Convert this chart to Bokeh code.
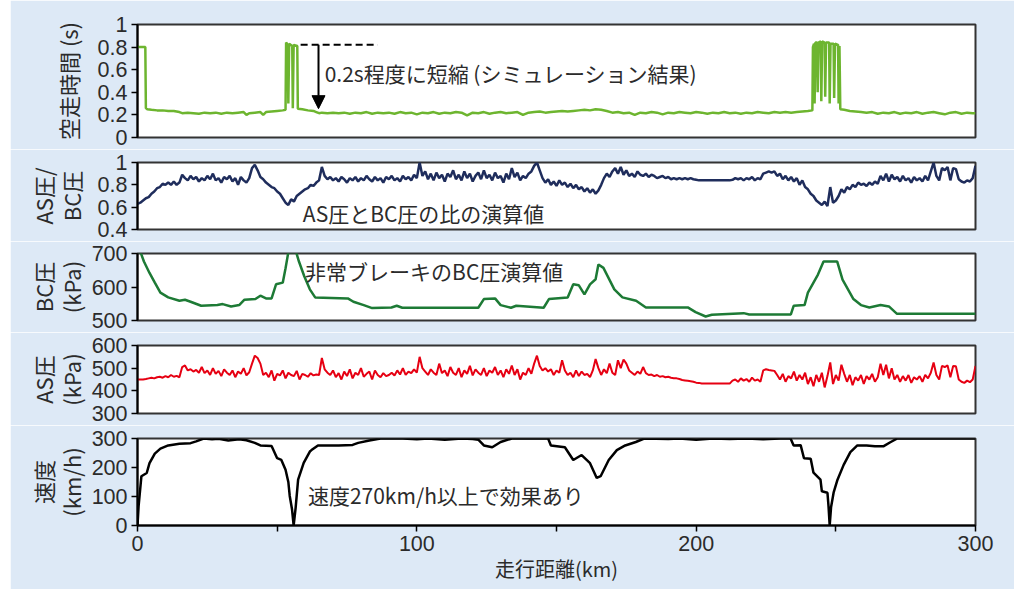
from bokeh.plotting import figure
from bokeh.layouts import column, row
from bokeh.models import (FixedTicker, CustomJSTickFormatter, Label, Arrow,
                          NormalHead, Range1d, Spacer)
from bokeh.embed import file_html
from bokeh.resources import INLINE

# ---------------- data ----------------
# Panel 1: idle running time (s)
idle_x = [0, 0.5, 2.8, 3.0, 3.5, 5, 7, 9, 11, 13, 15, 16, 18, 20, 22, 24, 26, 28, 30, 32, 34, 36, 38, 39, 40,
          42, 44, 45, 46, 48, 50, 52, 53.0, 53.2, 53.8, 54.0, 54.3, 55.4, 55.6, 55.9, 57.2, 57.4, 59, 61, 63,
          64, 65, 66, 68, 70, 72, 74, 76, 78, 80, 82, 84, 86, 88, 90, 92, 94, 96, 98, 100, 102, 104, 106,
          108, 110, 112, 114, 116, 118, 120, 122, 124, 126, 128, 130, 132, 134, 136, 138, 140, 142, 144,
          146, 148, 150, 152, 154, 156, 158, 160, 162, 164, 166, 168, 170, 172, 174, 176, 178, 180, 182,
          184, 186, 188, 190, 192, 194, 196, 198, 200, 202, 204, 206, 208, 210, 212, 214, 216, 218, 220,
          222, 224, 226, 228, 230, 232, 234, 236, 238, 240, 241.6, 241.8, 242.2, 242.4, 242.7, 243.3, 243.5,
          243.8, 244.6, 244.8, 245.1, 246.0, 246.2, 246.5, 247.6, 247.8, 248.1, 249.2, 249.4, 249.7, 250.8,
          251.0, 251.3, 251.6, 253, 255, 257, 259, 261, 263, 265, 267, 269, 271, 273, 275, 277, 279, 281,
          283, 285, 287, 289, 291, 293, 295, 297, 299, 300]
idle_t = [0.81, 0.80, 0.80, 0.26, 0.25, 0.245, 0.24, 0.24, 0.235, 0.235, 0.225, 0.215, 0.22, 0.215, 0.21,
          0.22, 0.215, 0.22, 0.21, 0.22, 0.215, 0.22, 0.225, 0.20, 0.215, 0.22, 0.225, 0.20, 0.225, 0.23,
          0.235, 0.24, 0.245, 0.84, 0.82, 0.30, 0.83, 0.81, 0.26, 0.82, 0.81, 0.255, 0.25, 0.24, 0.235,
          0.225, 0.215, 0.22, 0.215, 0.22, 0.215, 0.22, 0.21, 0.22, 0.215, 0.225, 0.21, 0.22, 0.215, 0.22,
          0.21, 0.225, 0.215, 0.22, 0.205, 0.22, 0.215, 0.225, 0.21, 0.22, 0.215, 0.225, 0.22, 0.195, 0.22,
          0.215, 0.225, 0.21, 0.22, 0.225, 0.215, 0.22, 0.225, 0.20, 0.22, 0.225, 0.23, 0.22, 0.225, 0.23,
          0.235, 0.23, 0.235, 0.24, 0.245, 0.24, 0.25, 0.245, 0.235, 0.22, 0.225, 0.215, 0.22, 0.20, 0.22,
          0.215, 0.225, 0.22, 0.205, 0.22, 0.215, 0.225, 0.22, 0.215, 0.225, 0.22, 0.21, 0.22, 0.215, 0.225,
          0.215, 0.22, 0.21, 0.22, 0.215, 0.225, 0.22, 0.215, 0.225, 0.22, 0.225, 0.22, 0.225, 0.23, 0.235,
          0.24, 0.80, 0.83, 0.30, 0.84, 0.84, 0.40, 0.84, 0.85, 0.32, 0.85, 0.84, 0.36, 0.84, 0.84, 0.30,
          0.83, 0.83, 0.35, 0.83, 0.82, 0.30, 0.81, 0.25, 0.245, 0.235, 0.23, 0.225, 0.22, 0.225, 0.21,
          0.22, 0.215, 0.225, 0.21, 0.22, 0.215, 0.225, 0.21, 0.22, 0.225, 0.215, 0.205, 0.22, 0.225, 0.21,
          0.22, 0.215, 0.215]

# Distance grid (km) for the 1-km sampled ratio / AS pressure traces
dist_km = list(range(0, 301))

# Panel 2: AS/BC pressure ratio
ratio = [0.63, 0.64, 0.66, 0.68, 0.69, 0.72, 0.74, 0.77, 0.78, 0.81, 0.80, 0.82, 0.80, 0.83, 0.80, 0.82,
         0.89, 0.86, 0.84, 0.88, 0.85, 0.87, 0.83, 0.86, 0.84, 0.88, 0.85, 0.90, 0.84, 0.86, 0.82, 0.87,
         0.85, 0.88, 0.83, 0.86, 0.80, 0.87, 0.84, 0.82, 0.86, 0.95, 0.98, 0.93, 0.87, 0.85, 0.82, 0.80,
         0.78, 0.77, 0.74, 0.72, 0.68, 0.64, 0.62, 0.67, 0.65, 0.70, 0.72, 0.74, 0.76, 0.77, 0.80, 0.79,
         0.82, 0.84, 0.96, 0.88, 0.85, 0.87, 0.84, 0.86, 0.83, 0.87, 0.85, 0.82, 0.86, 0.84, 0.87, 0.83,
         0.86, 0.84, 0.88, 0.85, 0.83, 0.87, 0.84, 0.86, 0.82, 0.87, 0.85, 0.88, 0.84, 0.86, 0.83, 0.88,
         0.85, 0.87, 0.84, 0.89, 0.86, 1.00, 0.88, 0.92, 0.85, 0.90, 0.84, 0.91, 0.86, 0.89, 0.83, 0.90,
         0.87, 0.93, 0.85, 0.89, 0.84, 0.92, 0.86, 0.90, 0.83, 0.88, 0.91, 0.85, 0.93, 0.86, 0.89, 0.84,
         0.91, 0.86, 0.88, 0.82, 0.90, 0.85, 0.95, 0.87, 0.91, 0.84, 0.88, 0.86, 0.90, 0.92, 0.97, 1.00,
         0.93, 0.86, 0.82, 0.85, 0.80, 0.83, 0.79, 0.84, 0.80, 0.82, 0.78, 0.81, 0.77, 0.80, 0.76, 0.78,
         0.74, 0.77, 0.73, 0.76, 0.72, 0.75, 0.80, 0.86, 0.90, 0.87, 0.92, 0.95, 0.90, 0.96, 0.89, 0.93,
         0.88, 0.90, 0.87, 0.92, 0.89, 0.88, 0.90, 0.87, 0.89, 0.88, 0.86, 0.87, 0.88, 0.86, 0.87, 0.85,
         0.86, 0.85, 0.86, 0.85, 0.86, 0.85, 0.86, 0.85, 0.845, 0.84, 0.84, 0.84, 0.84, 0.84, 0.84, 0.84,
         0.84, 0.84, 0.84, 0.84, 0.84, 0.845, 0.86, 0.85, 0.86, 0.84, 0.86, 0.85, 0.87, 0.84, 0.86, 0.85,
         0.90, 0.91, 0.92, 0.91, 0.92, 0.88, 0.90, 0.85, 0.88, 0.84, 0.87, 0.83, 0.86, 0.80, 0.84, 0.78,
         0.76, 0.72, 0.70, 0.66, 0.64, 0.62, 0.65, 0.61, 0.78, 0.64, 0.66, 0.70, 0.76, 0.73, 0.78, 0.76,
         0.80, 0.78, 0.82, 0.80, 0.81, 0.79, 0.82, 0.80, 0.83, 0.81, 0.88, 0.84, 0.90, 0.83, 0.89, 0.85,
         0.87, 0.83, 0.88, 0.84, 0.86, 0.82, 0.87, 0.84, 0.86, 0.83, 0.88, 0.84, 0.92, 1.00, 0.88, 0.84,
         0.95, 0.93, 0.96, 0.84, 0.95, 0.94, 0.85, 0.83, 0.82, 0.84, 0.83, 0.86, 0.97]

# Panel 3: calculated emergency-brake BC pressure (kPa)
bc_x = [0, 1, 2.3, 4.3, 6.2, 8.2, 11, 15, 17, 19, 22.8, 28.6, 30.5, 33.5, 36.4, 38.3, 42.2, 44, 46, 48,
        49.6, 52, 53, 54, 56.8, 57.8, 59.7, 61.7, 63.6, 75.3, 77.3, 81, 84, 90.9, 92.8, 94.8, 122, 124,
        128, 130, 133.7, 135.6, 145.4, 147.3, 154, 156, 158, 160, 162, 164, 165, 166.8, 170.7, 173.6,
        178.5, 182, 197, 199.8, 203.4, 205.6, 217, 219, 233.9, 234.9, 238.8, 240, 243.6, 245.6, 250.5,
        252.4, 256.3, 259, 262, 266, 269, 271.9, 300]
bc_p = [703, 706, 676, 642, 613, 583, 569, 559, 562, 556, 544, 546, 549, 542, 546, 562, 564, 574, 566, 566,
        608, 613, 656, 704, 704, 676, 632, 593, 569, 566, 556, 546, 537, 539, 544, 538, 538, 564, 566,
        546, 538, 544, 538, 564, 569, 608, 605, 578, 608, 623, 667, 657, 593, 569, 559, 539, 539, 525,
        512, 517, 522, 518, 518, 544, 546, 583, 637, 676, 676, 622, 564, 546, 539, 546, 542, 520, 520]

# Panel 4: AS pressure (kPa)
as_p = [450, 450, 450, 452, 455, 458, 455, 460, 462, 458, 465, 460, 470, 462, 466, 460, 505, 512, 490, 495,
        485, 492, 480, 505, 478, 490, 470, 500, 475, 488, 465, 495, 480, 470, 490, 460, 485, 475, 500, 468,
        482, 520, 555, 545, 520, 470, 480, 460, 490, 445, 475, 468, 490, 455, 480, 470, 465, 488, 450, 475,
        470, 462, 478, 468, 472, 470, 545, 495, 480, 470, 490, 460, 478, 450, 485, 465, 495, 455, 480, 470,
        500, 462, 475, 485, 450, 490, 470, 460, 478, 465, 470, 480, 468, 490, 472, 500, 470, 485, 478, 495,
        480, 550, 500, 485, 470, 495, 480, 470, 520, 478, 490, 465, 505, 480, 470, 500, 460, 490, 475, 510,
        468, 495, 480, 470, 500, 465, 490, 480, 505, 470, 490, 460, 495, 475, 512, 470, 495, 450, 480, 470,
        500, 475, 520, 555, 510, 490, 500, 485, 495, 470, 490, 480, 535, 490, 470, 480, 460, 490, 465, 485,
        470, 475, 460, 490, 540, 500, 470, 495, 478, 520, 480, 470, 535, 500, 538, 520, 490, 480, 470, 485,
        475, 505, 478, 470, 472, 465, 470, 462, 465, 460, 462, 458, 456, 455, 452, 448, 446, 444, 442, 440,
        436, 435, 432, 432, 432, 432, 432, 432, 432, 432, 432, 432, 432, 445, 450, 440, 455, 445, 452, 440,
        458, 445, 450, 440, 490, 495, 492, 490, 488, 470, 450, 475, 440, 465, 455, 485, 445, 470, 450, 480,
        430, 460, 420, 470, 440, 480, 415, 465, 525, 430, 470, 445, 515, 475, 440, 470, 425, 460, 445, 470,
        430, 465, 450, 475, 440, 460, 520, 470, 515, 455, 500, 450, 470, 440, 465, 445, 470, 435, 460, 450,
        465, 440, 470, 455, 480, 525, 470, 450, 510, 505, 512, 460, 510, 508, 450, 440, 435, 445, 438, 450,
        510]

# Panel 5: speed (km/h)
spd_x = [0, 0.4, 1.4, 3.3, 4.3, 6.2, 8.2, 11, 15, 19, 21, 23.7, 26.7, 29, 32.5, 36.4, 39, 42, 44, 48, 50,
         51.5, 53, 54, 54.5, 55.3, 55.9, 56.6, 57.5, 59.5, 61.7, 62.3, 64.6, 67.5, 72, 77, 79, 83, 87, 95,
         100, 104, 110, 116, 120, 122, 124, 127, 130, 134, 147, 148, 153, 156, 159, 162, 164.4, 165.8,
         168.7, 171.6, 174.6, 178.4, 181.4, 190, 194, 200, 206, 212, 218, 224, 230, 233.8, 234.9, 237.4,
         238.6, 241, 242, 244.5, 245, 247, 247.4, 247.8, 248.3, 249.2, 250.6, 252.8, 255.2, 257.7, 261,
         264, 267, 269.5, 272, 300]
spd_v = [0, 68, 170, 181, 215, 248, 265, 276, 282, 284, 290, 300, 297, 299, 293, 297, 294, 285, 276, 274,
         232, 226, 192, 150, 102, 57, 0, 60, 158, 216, 255, 260, 276, 276, 276, 278, 285, 293, 300, 300,
         297, 300, 296, 300, 298, 296, 276, 270, 288, 300, 300, 276, 270, 226, 243, 215, 164, 170, 226,
         260, 276, 288, 300, 298, 300, 296, 300, 298, 300, 297, 300, 300, 276, 277, 232, 230, 182, 158,
         118, 113, 64, 0, 64, 113, 158, 209, 253, 276, 276, 273, 273, 287, 300, 300]

# annotation texts
note_idle = "0.2s程度に短縮 (シミュレーション結果)"
note_ratio = "AS圧とBC圧の比の演算値"
note_bc = "非常ブレーキのBC圧演算値"
note_spd = "速度270km/h以上で効果あり"

# ---------------- styling ----------------
BG = "#dde9f6"
TICK_FONT = "Liberation Sans"
TICK_SIZE = "21.5px"
JP_FONT = "Noto Sans CJK JP"
TXT = "#2b2b2b"

xr = Range1d(0, 300)


def make_fig(height, top, bottom, yr, ticks, title, standoff, fmt=False, xaxis=False):
    p = figure(width=1004, height=height, x_range=xr, y_range=Range1d(*yr),
               output_backend="svg", toolbar_location=None,
               x_axis_location="below" if xaxis else None,
               min_border_left=127, min_border_right=39,
               min_border_top=top, min_border_bottom=bottom)
    p.background_fill_color = "white"
    p.border_fill_color = BG
    p.outline_line_color = "#333333"
    p.outline_line_width = 2
    p.grid.visible = False
    ax = p.yaxis[0]
    ax.ticker = FixedTicker(ticks=ticks, minor_ticks=[])
    if fmt:
        ax.formatter = CustomJSTickFormatter(code="return (Math.round(tick*10)/10).toString();")
    ax.axis_line_color = "black"
    ax.axis_line_width = 2
    ax.major_tick_in = 0
    ax.major_tick_out = 6
    ax.major_tick_line_width = 1.5
    ax.major_tick_line_color = "black"
    ax.minor_tick_line_color = None
    ax.major_label_text_font = TICK_FONT
    ax.major_label_text_font_size = TICK_SIZE
    ax.major_label_text_color = TXT
    ax.major_label_standoff = 4
    ax.axis_label = title
    ax.axis_label_text_font = JP_FONT
    ax.axis_label_text_font_size = "22px"
    ax.axis_label_text_font_style = "normal"
    ax.axis_label_text_line_height = 0.85
    ax.axis_label_text_color = TXT
    ax.axis_label_standoff = standoff
    return p


def note(p, x, y, text):
    p.add_layout(Label(x=x, y=y, text=text, text_font=JP_FONT, text_font_size="21px",
                       text_color=TXT, text_baseline="middle", text_align="left"))


# Panel 1
p1 = make_fig(149, 24, 12, (0, 1), [0, 0.2, 0.4, 0.6, 0.8, 1], "空走時間 (s)", 11, fmt=True)
p1.line(idle_x, idle_t, line_color="#6db52f", line_width=2.5)
dash_x = [58.4, 86.0]
dash_y = [0.82, 0.82]
p1.line(dash_x, dash_y, line_color="black", line_width=2, line_dash="7 4")
p1.add_layout(Arrow(end=NormalHead(size=13, fill_color="black", line_color="black"),
                    x_start=64.8, y_start=0.82, x_end=64.8, y_end=0.255,
                    line_color="black", line_width=2))
note(p1, 67.0, 0.57, note_idle)

# Panel 2
p2 = make_fig(92, 13, 12, (0.4, 1), [0.4, 0.6, 0.8, 1], "AS圧/\nBC圧", 8, fmt=True)
p2.line(dist_km, ratio, line_color="#1f2d5c", line_width=2.5)
note(p2, 59.2, 0.552, note_ratio)

# Panel 3
p3 = make_fig(91, 12, 12, (500, 700), [500, 600, 700], "BC圧\n(kPa)", 2)
p3.line(bc_x, bc_p, line_color="#1d7a35", line_width=2.5)
note(p3, 60.0, 647, note_bc)

# Panel 4
p4 = make_fig(93, 13, 12, (300, 600), [300, 400, 500, 600], "AS圧\n(kPa)", 2)
p4.line(dist_km, as_p, line_color="#e60012", line_width=2)

# Panel 5
p5 = make_fig(164, 13, 64, (0, 300), [0, 100, 200, 300], "速度\n(km/h)", 2, xaxis=True)
p5.line(spd_x, spd_v, line_color="black", line_width=2.5)
note(p5, 61.0, 104, note_spd)
xa = p5.xaxis[0]
xa.ticker = FixedTicker(ticks=[0, 100, 200, 300], minor_ticks=[50, 150, 250])
xa.axis_line_color = "black"
xa.axis_line_width = 2
xa.major_tick_in = 0
xa.major_tick_out = 6
xa.major_tick_line_width = 1.5
xa.major_tick_line_color = "black"
xa.minor_tick_in = 0
xa.minor_tick_out = 6
xa.minor_tick_line_width = 1.5
xa.minor_tick_line_color = "black"
xa.major_label_text_font = TICK_FONT
xa.major_label_text_font_size = TICK_SIZE
xa.major_label_text_color = TXT
xa.major_label_standoff = 4
xa.axis_label = "走行距離(km)"
xa.axis_label_text_font = JP_FONT
xa.axis_label_text_font_size = "20px"
xa.axis_label_text_font_style = "normal"
xa.axis_label_text_color = TXT
xa.axis_label_standoff = 0

panels = column(p1, p2, p3, p4, p5, spacing=0)
layout = row(Spacer(width=10), panels, spacing=0)
open("out.html", "w").write(file_html(layout, INLINE))
